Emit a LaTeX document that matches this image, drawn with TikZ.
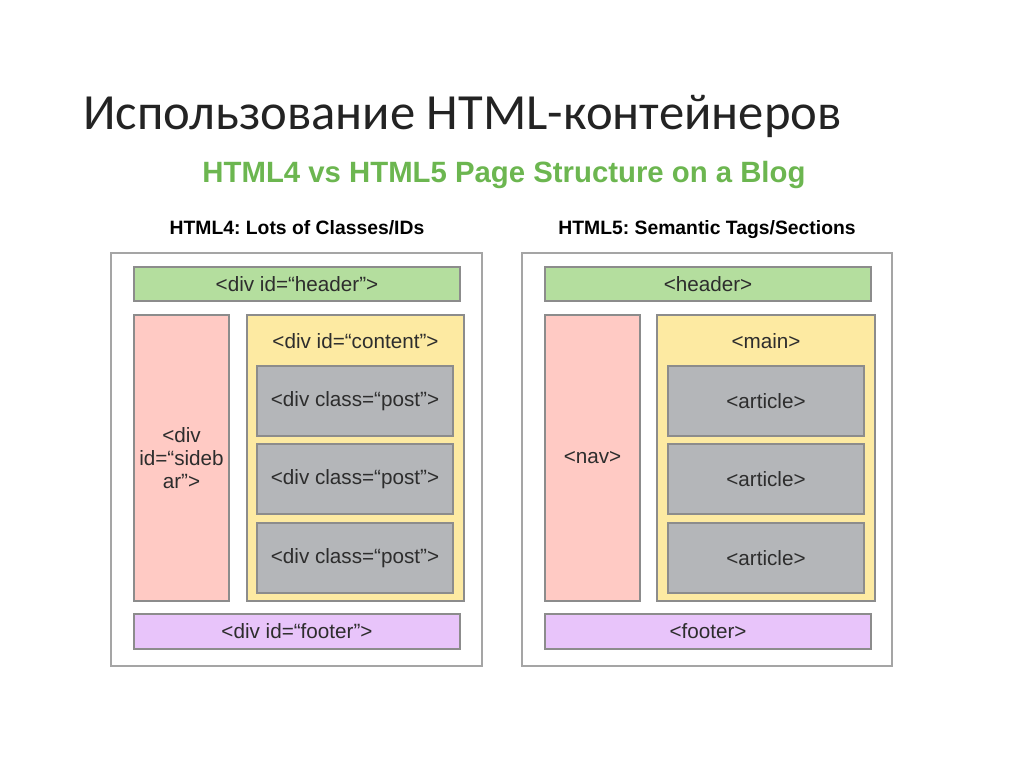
\documentclass[tikz,border=0pt]{standalone}
\usepackage{fontspec}
\setmainfont{Liberation Sans}
\newfontfamily\titlefont{Carlito}
\frenchspacing
\definecolor{titc}{RGB}{35,35,35}
\definecolor{subg}{RGB}{108,182,80}
\definecolor{txt}{RGB}{45,45,45}
\definecolor{framec}{RGB}{165,165,165}
\definecolor{edgec}{RGB}{140,140,140}
\definecolor{hdrc}{RGB}{180,222,158}
\definecolor{sidec}{RGB}{255,202,196}
\definecolor{mainc}{RGB}{253,234,162}
\definecolor{postc}{RGB}{180,182,185}
\definecolor{footc}{RGB}{232,196,250}
\tikzset{
  frame/.style={draw=framec,line width=1.5pt,inner sep=0pt,minimum width=278pt,minimum height=309.75pt},
  part/.style={draw=edgec,line width=1.5pt,inner sep=0pt,text=txt,font=\fontsize{15.5}{17}\selectfont},
  hdrbox/.style={part,fill=hdrc,minimum width=244.5pt,minimum height=25.5pt},
  sidebox/.style={part,fill=sidec,align=center,minimum width=71.25pt,minimum height=214.5pt},
  mainbox/.style={part,fill=mainc,minimum width=163pt,minimum height=214.5pt},
  postbox/.style={part,fill=postc,minimum width=147pt,minimum height=52.5pt},
  footbox/.style={part,fill=footc,minimum width=244.5pt,minimum height=26.25pt},
  lab/.style={text=txt,font=\fontsize{15.5}{17}\selectfont},
  ptitle/.style={text=black,font=\bfseries\fontsize{14.5}{17}\selectfont},
}
\begin{document}
\begin{tikzpicture}[x=0.75pt,y=-0.75pt]
\useasboundingbox (0,0) rectangle (1024,767);
% ================= Titles =================
\node[anchor=base west,inner sep=0pt,text=titc,font=\titlefont\fontsize{38}{46}\selectfont] (title) at (83,129) {Использование HTML-контейнеров};
\node[anchor=base,inner sep=0pt,text=subg,font=\bfseries\fontsize{22}{26}\selectfont] (subtitle) at (504,182) {HTML4 vs HTML5 Page Structure on a Blog};
\node[ptitle,anchor=base,inner sep=0pt] (title4) at (297,234) {HTML4: Lots of Classes/IDs};
\node[ptitle,anchor=base,inner sep=0pt] (title5) at (707,234) {HTML5: Semantic Tags/Sections};

% ================= HTML4 =================
\node[frame] (page4) at (296.5,459.5) {};
\node[hdrbox] (head4) at (297,284) {<div id=“header”>};
\node[sidebox] (side4) at (181.5,458) {<div\\id=“sideb\\ar”>};
\node[mainbox] (cont4) at (355.5,458) {};
\node[lab] (cont4lab) at (355.5,341) {<div id=“content”>};
\foreach \y/\n in {401/1,479/2,558/3}{
  \node[postbox] (post4\n) at (355,\y) {<div class=“post”>};
}
\node[footbox] (foot4) at (297,631.5) {<div id=“footer”>};

% ================= HTML5 =================
\node[frame] (page5) at (707,459.5) {};
\node[hdrbox] (head5) at (708,284) {<header>};
\node[sidebox] (nav5) at (592.5,458) {<nav>};
\node[mainbox] (main5) at (766,458) {};
\node[lab] (main5lab) at (766,341) {<main>};
\foreach \y/\n in {401/1,479/2,558/3}{
  \node[postbox] (art5\n) at (766,\y) {<article>};
}
\node[footbox] (foot5) at (708,631.5) {<footer>};
\end{tikzpicture}
\end{document}
